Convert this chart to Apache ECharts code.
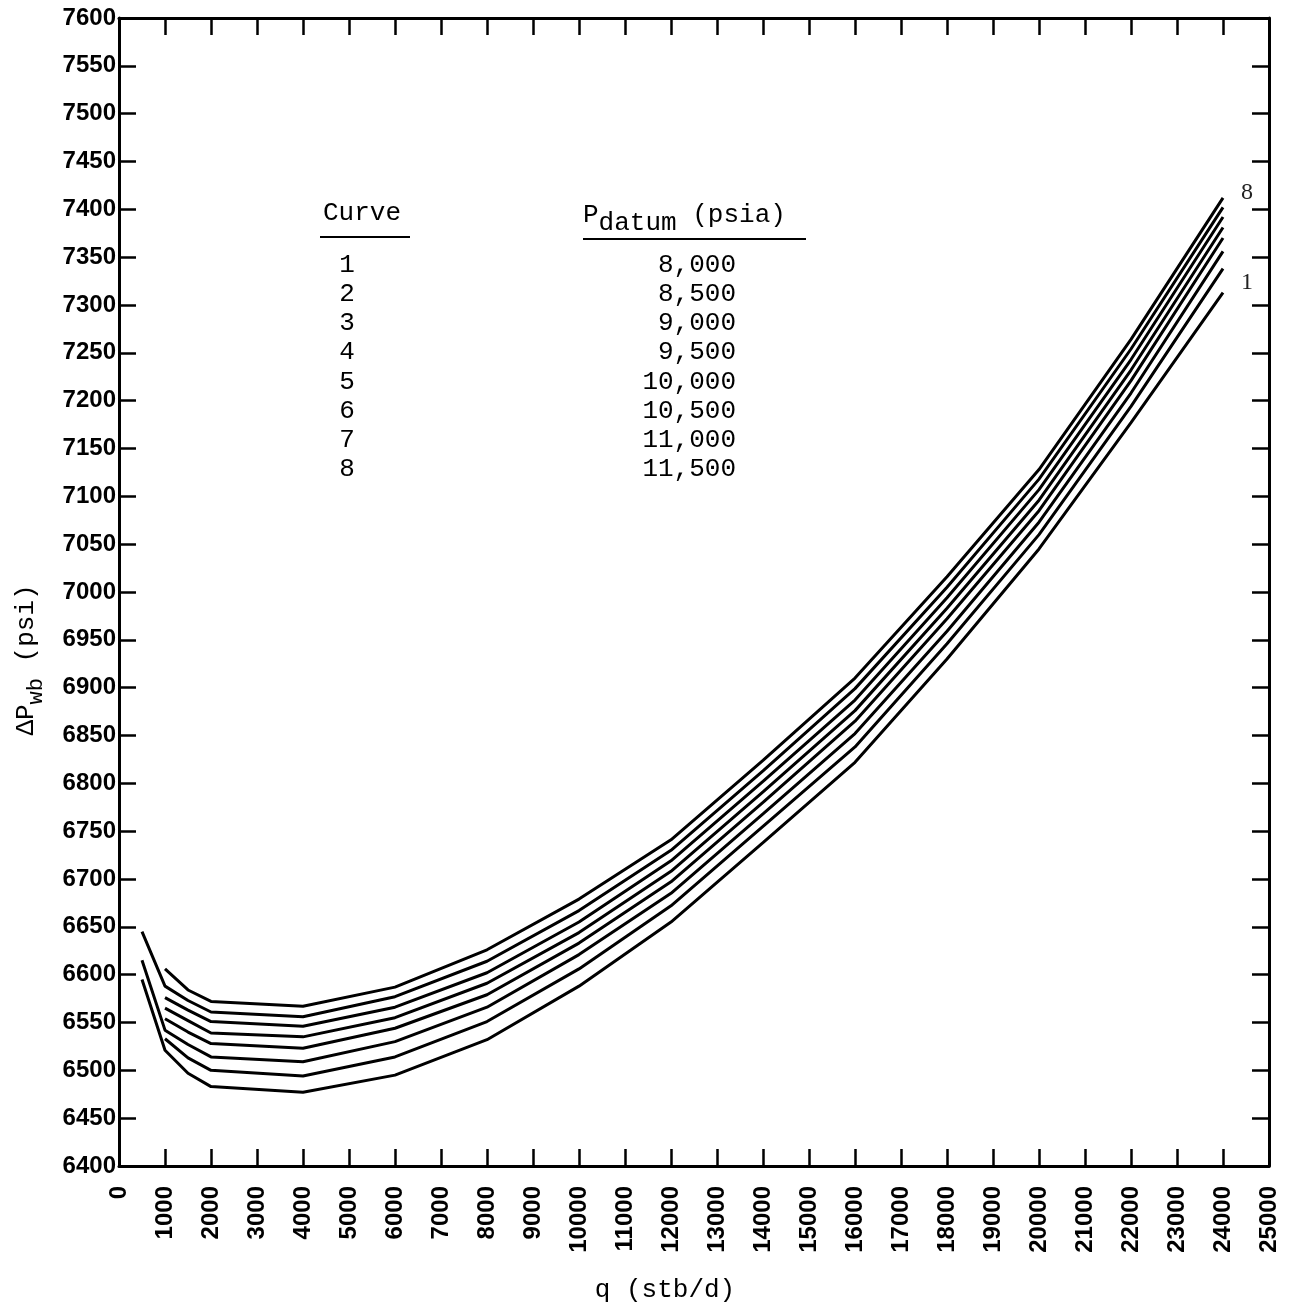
<!DOCTYPE html>
<html>
<head>
<meta charset="utf-8">
<script src="https://cdn.jsdelivr.net/npm/echarts@6/dist/echarts.min.js"></script>
<style>
  html, body { margin: 0; padding: 0; background: #fff; }
  #chart { width: 1292px; height: 1313px; }
</style>
</head>
<body>
<div id="chart"></div>
<script>
// rates (stb/d) where the curves were read
var qValues = [500, 1000, 1500, 2000, 4000, 6000, 8000, 10000, 12000, 14000, 16000, 18000, 20000, 22000, 24000];

// delta p_wb (psi), null = curve not drawn at that rate
var curve1 = [6595, 6521, 6497, 6483, 6477, 6495, 6532, 6588, 6655, 6738, 6822, 6930, 7045, 7177, 7313];
var curve2 = [null, 6533, 6513, 6500, 6494, 6514, 6551, 6606, 6672, 6755, 6838, 6946, 7060, 7194, 7338];
var curve3 = [6615, 6542, 6527, 6514, 6509, 6530, 6566, 6621, 6685, 6768, 6852, 6959, 7073, 7208, 7356];
var curve4 = [null, 6554, 6540, 6528, 6523, 6544, 6579, 6633, 6697, 6780, 6865, 6972, 7085, 7221, 7370];
var curve5 = [null, 6565, 6552, 6539, 6535, 6555, 6591, 6644, 6708, 6791, 6876, 6983, 7096, 7232, 7381];
var curve6 = [null, 6576, 6563, 6551, 6546, 6566, 6602, 6655, 6719, 6802, 6887, 6994, 7107, 7243, 7392];
var curve7 = [6645, 6588, 6573, 6561, 6556, 6577, 6614, 6667, 6730, 6813, 6899, 7005, 7118, 7254, 7402];
var curve8 = [null, 6606, 6584, 6572, 6567, 6587, 6626, 6679, 6741, 6824, 6910, 7016, 7128, 7264, 7412];

// table in the plot
var curveIds = ['1', '2', '3', '4', '5', '6', '7', '8'];
var datumPressures = ['8,000', '8,500', '9,000', '9,500', '10,000', '10,500', '11,000', '11,500'];

var curves = [curve1, curve2, curve3, curve4, curve5, curve6, curve7, curve8];

var myChart = echarts.init(document.getElementById('chart'));

var mono = '"Liberation Mono", "DejaVu Sans Mono", monospace';
var tickFont = {
    fontFamily: '"Liberation Sans", Arial, sans-serif', fontWeight: 'bold', fontSize: 24, color: '#000',
    formatter: function (v) { return String(v); }
};

function pairs(vals) {
    var out = [];
    qValues.forEach(function (q, i) {
        if (vals[i] != null) out.push([q, vals[i]]);
    });
    return out;
}

var series = curves.map(function (vals, idx) {
    var s = {
        name: 'Curve ' + curveIds[idx],
        type: 'line',
        data: pairs(vals),
        showSymbol: false,
        symbol: 'none',
        lineStyle: { color: '#000', width: 3 },
        xAxisIndex: 0,
        yAxisIndex: 0,
        z: 3
    };
    if (idx === 0 || idx === curves.length - 1) {
        s.endLabel = {
            show: true,
            formatter: curveIds[idx],
            fontFamily: '"Liberation Serif", serif',
            fontSize: 24,
            color: '#222',
            offset: idx === 0 ? [10, -10] : [10, -5]
        };
    }
    return s;
});

// legend-like table drawn as text
var graphics = [];
graphics.push({ type: 'text', left: 323, top: 200, style: { text: 'Curve', font: '26px ' + mono, fill: '#000' } });
graphics.push({ type: 'line', shape: { x1: 320, y1: 237, x2: 410, y2: 237 }, style: { stroke: '#000', lineWidth: 2 } });
graphics.push({
    type: 'text', left: 583, top: 198,
    style: {
        text: '{p|P}{s|datum}{p| (psia)}',
        rich: {
            p: { font: '26px ' + mono, fill: '#000', lineHeight: 34, verticalAlign: 'top' },
            s: { font: '26px ' + mono, fill: '#000', lineHeight: 34, verticalAlign: 'bottom', padding: [12, 0, 0, 0] }
        }
    }
});
graphics.push({ type: 'line', shape: { x1: 583, y1: 239, x2: 806, y2: 239 }, style: { stroke: '#000', lineWidth: 2 } });
curveIds.forEach(function (c, i) {
    graphics.push({
        type: 'text', x: 347, y: 265 + i * 29.2,
        style: { text: c, font: '26px ' + mono, fill: '#000', align: 'center', verticalAlign: 'middle' }
    });
    graphics.push({
        type: 'text', x: 736, y: 265 + i * 29.2,
        style: { text: datumPressures[i], font: '26px ' + mono, fill: '#000', align: 'right', verticalAlign: 'middle' }
    });
});
// axis titles
graphics.push({
    type: 'text', x: 665, y: 1290,
    style: { text: 'q (stb/d)', font: '26px ' + mono, fill: '#000', align: 'center', verticalAlign: 'middle' }
});
graphics.push({
    type: 'text', x: 30, y: 660, rotation: Math.PI / 2,
    style: {
        text: '{d|ΔP}{s|wb}{d| (psi)}',
        align: 'center', verticalAlign: 'middle',
        rich: {
            d: { font: '26px ' + mono, fill: '#000', lineHeight: 34, verticalAlign: 'top' },
            s: { font: '22px ' + mono, fill: '#000', lineHeight: 34, verticalAlign: 'bottom' }
        }
    }
});

var option = {
    animation: false,
    backgroundColor: '#fff',
    grid: { left: 119, right: 23, top: 18, bottom: 147, containLabel: false, outerBoundsMode: 'none' },
    xAxis: [
        {
            type: 'value', position: 'bottom', min: 0, max: 25000, interval: 1000,
            axisLine: { show: true, onZero: false, lineStyle: { color: '#000', width: 3 } },
            axisTick: { show: true, inside: true, length: 17, lineStyle: { color: '#000', width: 2.5 } },
            axisLabel: Object.assign({ rotate: 90, margin: 20 }, tickFont),
            splitLine: { show: false }
        },
        {
            type: 'value', position: 'top', min: 0, max: 25000, interval: 1000,
            axisLine: { show: true, onZero: false, lineStyle: { color: '#000', width: 3 } },
            axisTick: { show: true, inside: true, length: 17, lineStyle: { color: '#000', width: 2.5 } },
            axisLabel: { show: false },
            splitLine: { show: false }
        }
    ],
    yAxis: [
        {
            type: 'value', position: 'left', min: 6400, max: 7600, interval: 50,
            axisLine: { show: true, onZero: false, lineStyle: { color: '#000', width: 3 } },
            axisTick: { show: true, inside: true, length: 17, lineStyle: { color: '#000', width: 2.5 } },
            axisLabel: Object.assign({ margin: 3 }, tickFont),
            splitLine: { show: false }
        },
        {
            type: 'value', position: 'right', min: 6400, max: 7600, interval: 50,
            axisLine: { show: true, onZero: false, lineStyle: { color: '#000', width: 3 } },
            axisTick: { show: true, inside: true, length: 17, lineStyle: { color: '#000', width: 2.5 } },
            axisLabel: { show: false },
            splitLine: { show: false }
        }
    ],
    graphic: graphics,
    series: series
};

myChart.setOption(option);
</script>
</body>
</html>
